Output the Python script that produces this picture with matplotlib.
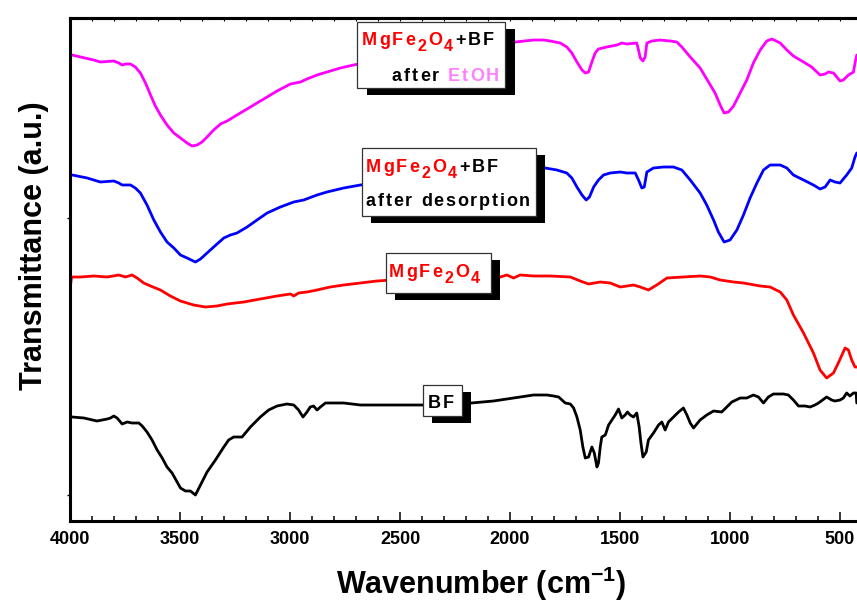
import matplotlib
matplotlib.use("Agg")
import matplotlib.pyplot as plt
from matplotlib.patches import Rectangle
from matplotlib.ticker import MultipleLocator, FixedLocator, NullFormatter

plt.rcParams['font.family'] = ['Liberation Sans', 'DejaVu Sans']
plt.rcParams['mathtext.fontset'] = 'custom'
plt.rcParams['mathtext.rm'] = 'Liberation Sans:bold'
plt.rcParams['mathtext.bf'] = 'Liberation Sans:bold'
plt.rcParams['mathtext.it'] = 'Liberation Sans:bold'

# ---------------- data (wavenumber in cm^-1, transmittance in a.u., curves offset) ----------------
wn_etoh = [3990, 3952, 3892, 3862, 3801, 3778, 3763, 3748, 3725, 3703, 3680, 3657, 3634, 3612,
           3589, 3559, 3528, 3498, 3468, 3445, 3422, 3400, 3377, 3347, 3316, 3286, 3256, 3226,
           3195, 3150, 3104, 3059, 2998, 2953, 2923, 2877, 2832, 2771, 2711, 2550, 2400, 2250,
           2100, 2014, 1976, 1893, 1848, 1817, 1772, 1742, 1719, 1696, 1673, 1658, 1643, 1628,
           1613, 1598, 1560, 1514, 1492, 1469, 1424, 1416, 1408, 1396, 1386, 1378, 1355, 1318,
           1272, 1242, 1219, 1181, 1136, 1098, 1068, 1045, 1027, 1007, 984, 954, 924, 894, 863,
           833, 810, 772, 742, 712, 666, 629, 591, 568, 553, 530, 500, 485, 462, 439, 432, 424]
t_etoh = [466, 464, 461, 459, 460, 458, 456, 457, 457, 454, 448, 438, 426, 415,
          406, 396, 388, 383, 378, 375, 376, 379, 384, 391, 397, 400, 404, 408,
          412, 418, 424, 430, 437, 439, 442, 446, 449, 453, 456, 463, 469, 474,
          478, 479, 479, 481, 481, 480, 478, 474, 468, 459, 451, 448, 449, 459,
          468, 472, 474, 476, 478, 477, 478, 471, 463, 460, 464, 478, 480, 481,
          480, 479, 474, 464, 453, 439, 428, 416, 408, 409, 415, 428, 441, 458, 471,
          480, 482, 478, 471, 465, 459, 454, 446, 447, 449, 448, 440, 441, 446, 449, 458, 466]

wn_desorp = [3990, 3922, 3862, 3801, 3778, 3763, 3725, 3703, 3680, 3650, 3619, 3589, 3559, 3528,
             3498, 3468, 3430, 3407, 3377, 3347, 3301, 3271, 3241, 3195, 3150, 3104, 3044, 2983,
             2938, 2877, 2832, 2756, 2680, 2500, 2300, 2100, 1950, 1840, 1787, 1742, 1719, 1696,
             1673, 1654, 1639, 1620, 1598, 1575, 1545, 1499, 1469, 1431, 1416, 1401, 1390, 1378,
             1348, 1302, 1257, 1219, 1181, 1136, 1106, 1075, 1053, 1027, 1000, 969, 939, 909,
             878, 848, 818, 772, 742, 712, 666, 621, 591, 568, 545, 523, 500, 470, 447, 432, 424]
t_desorp = [346, 343, 339, 340, 338, 336, 336, 333, 328, 316, 301, 289, 279, 273,
            266, 263, 259, 262, 268, 274, 283, 286, 288, 294, 301, 308, 314, 319,
            321, 326, 329, 333, 336, 341, 346, 350, 352, 353, 351, 348, 343, 334,
            326, 321, 324, 334, 341, 346, 348, 349, 348, 348, 341, 333, 334, 349,
            353, 354, 354, 351, 341, 328, 316, 301, 289, 279, 281, 291, 306, 323,
            338, 351, 356, 356, 353, 346, 341, 336, 332, 334, 341, 339, 338, 346, 353, 364, 368]

wn_mgfe = [3999, 3993, 3952, 3892, 3831, 3778, 3748, 3718, 3695, 3665, 3634, 3589, 3544, 3498,
           3468, 3438, 3385, 3332, 3286, 3210, 3135, 3059, 2998, 2983, 2961, 2923, 2877, 2817,
           2756, 2680, 2605, 2400, 2200, 2044, 2014, 1984, 1954, 1893, 1817, 1726, 1681, 1643,
           1590, 1545, 1499, 1439, 1408, 1371, 1333, 1287, 1212, 1136, 1090, 1045, 984, 939,
           863, 818, 772, 742, 712, 666, 621, 591, 561, 530, 508, 477, 462, 447, 432, 423]
t_mgfe = [233, 244, 244, 245, 244, 246, 244, 246, 243, 238, 235, 231, 225, 220,
          218, 216, 214, 215, 217, 219, 222, 225, 227, 225, 228, 229, 231, 234,
          236, 238, 240, 243, 245, 244, 246, 243, 246, 245, 245, 244, 240, 237,
          239, 238, 234, 236, 234, 231, 236, 243, 244, 245, 244, 241, 239, 238,
          235, 234, 229, 221, 206, 188, 168, 151, 143, 148, 158, 173, 171, 161, 154, 154]

wn_bf = [3990, 3937, 3877, 3831, 3816, 3801, 3786, 3763, 3740, 3718, 3687, 3672, 3650, 3627,
         3604, 3581, 3559, 3536, 3513, 3498, 3475, 3453, 3430, 3407, 3377, 3339, 3301, 3279,
         3256, 3218, 3180, 3135, 3097, 3059, 3014, 2983, 2961, 2941, 2923, 2908, 2893, 2877,
         2862, 2839, 2756, 2680, 2529, 2393, 2176, 2075, 1893, 1863, 1832, 1802, 1779, 1764,
         1749, 1726, 1711, 1696, 1681, 1669, 1658, 1643, 1628, 1617, 1605, 1598, 1590, 1583,
         1567, 1552, 1537, 1522, 1507, 1492, 1477, 1466, 1454, 1439, 1424, 1413, 1405, 1396,
         1381, 1371, 1348, 1325, 1310, 1295, 1280, 1257, 1234, 1212, 1196, 1181, 1166, 1136,
         1106, 1075, 1038, 1015, 992, 954, 924, 894, 871, 848, 826, 803, 757, 735, 712, 689,
         659, 636, 614, 598, 561, 538, 523, 500, 485, 470, 455, 439, 427, 424]
t_bf = [104, 103, 100, 102, 103, 105, 103, 97, 99, 98, 98, 95, 89, 81,
        71, 63, 54, 48, 39, 33, 30, 30, 26, 36, 49, 61, 74, 81,
        84, 84, 94, 104, 111, 115, 117, 116, 111, 104, 109, 114, 115, 111,
        114, 118, 118, 116, 116, 116, 118, 120, 126, 126, 126, 125, 124, 121,
        118, 117, 113, 104, 91, 74, 63, 64, 74, 68, 54, 58, 74, 84,
        86, 96, 101, 106, 112, 103, 106, 109, 106, 104, 108, 94, 78, 64,
        69, 81, 88, 96, 99, 91, 99, 104, 109, 113, 106, 98, 93, 101,
        106, 110, 109, 114, 119, 123, 123, 126, 124, 118, 124, 127, 127, 126, 121, 115,
        115, 114, 116, 118, 124, 121, 120, 121, 123, 128, 125, 128, 128, 118]

series_colors = ['#FF00FF', '#0000FF', '#FF0000', '#000000']
x_ticks = [4000, 3500, 3000, 2500, 2000, 1500, 1000, 500]
x_tick_labels = ['4000', '3500', '3000', '2500', '2000', '1500', '1000', '500']

# ---------------- figure ----------------
W, H = 857, 602
fig = plt.figure(figsize=(W / 100, H / 100), dpi=100)
ax_l, ax_t, ax_b = 70, 18, 521
ax = fig.add_axes([ax_l / W, 1 - ax_b / H, (W - ax_l) / W, (ax_b - ax_t) / H])

for wn, t, c in zip([wn_etoh, wn_desorp, wn_mgfe, wn_bf],
                    [t_etoh, t_desorp, t_mgfe, t_bf], series_colors):
    ax.plot(wn, t, color=c, lw=2.0, solid_joinstyle='round', solid_capstyle='round')

ax.set_xlim(4000, 423)
ax.set_ylim(0, 503)

for s in ['left', 'bottom', 'top']:
    ax.spines[s].set_linewidth(2.2)
ax.spines['right'].set_visible(False)

ax.xaxis.set_major_locator(FixedLocator(x_ticks))
ax.set_xticklabels(x_tick_labels)
ax.xaxis.set_minor_locator(MultipleLocator(100))
ax.tick_params(axis='x', which='major', direction='in', length=6.5, width=1.1,
               labelsize=13, pad=7)
ax.tick_params(axis='x', which='minor', direction='in', length=3.6, width=1.1)
for lab in ax.get_xticklabels():
    lab.set_fontweight('bold')

ax.yaxis.set_major_locator(FixedLocator([26, 303]))
ax.yaxis.set_major_formatter(NullFormatter())
ax.tick_params(axis='y', which='major', direction='out', length=2.5, width=1.0)

sec = ax.secondary_xaxis('top')
sec.xaxis.set_major_locator(MultipleLocator(100))
sec.tick_params(axis='x', direction='in', length=2.2, width=0.8, labeltop=False)
sec.spines['top'].set_linewidth(2.2)

ax.set_xlabel('Wavenumber (cm$^{-1}$)', fontsize=22, fontweight='bold')
ax.xaxis.label.set_va('baseline')
ax.xaxis.set_label_coords(0.523, -(594 - ax_b) / (ax_b - ax_t))
ax.set_ylabel('Transmittance (a.u.)', fontsize=22, fontweight='bold')
ax.yaxis.set_label_coords(-0.027, 0.547)

# ---------------- shadowed label boxes ----------------
def px2fig(x, y):
    return x / W, 1 - y / H

def shadow_box(x0, y0, x1, y1, dx, dy):
    fx, fy = px2fig(x0 + dx, y1 + dy)
    fig.add_artist(Rectangle((fx, fy), (x1 - x0) / W, (y1 - y0) / H,
                             transform=fig.transFigure, facecolor='black',
                             edgecolor='black', lw=0, zorder=4))
    fx, fy = px2fig(x0, y1)
    fig.add_artist(Rectangle((fx, fy), (x1 - x0) / W, (y1 - y0) / H,
                             transform=fig.transFigure, facecolor='white',
                             edgecolor='#333333', lw=0.9, zorder=5))

renderer = fig.canvas.get_renderer()

def spaced(x, y, pieces, track=2.0):
    for s, color, size, dy in pieces:
        for ch in s:
            if ch == ' ':
                x += 0.278 * size * 100 / 72 + track
                continue
            fx, fy = px2fig(x, y + dy)
            t = fig.text(fx, fy, ch, color=color, fontsize=size, fontweight='bold',
                         ha='left', va='baseline', zorder=6)
            x += t.get_window_extent(renderer).width + track
    return x

RED, BLK, PINK = '#FF0000', '#000000', '#FF80FF'
FS, SUB = 13, 11.5

shadow_box(357, 22, 505, 88, 10, 7)
spaced(362, 45, [('MgFe', RED, FS, 0), ('2', RED, SUB, 6), ('O', RED, FS, 0),
                 ('4', RED, SUB, 6), ('+BF', BLK, FS, 0)])
spaced(392, 81, [('after ', BLK, FS, 0), ('EtOH', PINK, FS, 0)])

shadow_box(362, 148, 536, 216, 9, 7)
spaced(366, 172, [('MgFe', RED, FS, 0), ('2', RED, SUB, 6), ('O', RED, FS, 0),
                  ('4', RED, SUB, 6), ('+BF', BLK, FS, 0)])
spaced(366, 206, [('after desorption', BLK, FS, 0)], track=1.8)

shadow_box(386, 253, 491, 293, 9, 7)
spaced(389, 277, [('MgFe', RED, FS, 0), ('2', RED, SUB, 6), ('O', RED, FS, 0),
                  ('4', RED, SUB, 6)])

shadow_box(423, 385, 462, 416, 9, 7)
spaced(428, 408, [('BF', BLK, FS, 0)])

fig.savefig('out.png', dpi=100)
